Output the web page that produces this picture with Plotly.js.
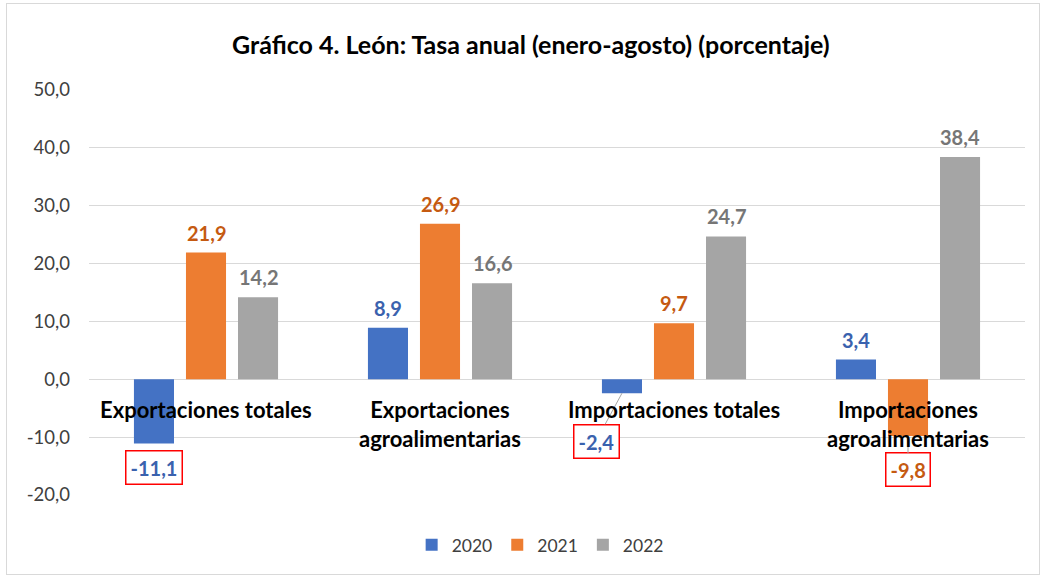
<!DOCTYPE html>
<html>
<head>
<meta charset="utf-8">
<script src="https://cdn.plot.ly/plotly-3.0.1.min.js"></script>
<style>
  html, body { margin: 0; padding: 0; background: #fff; }
  #chart { width: 1043px; height: 577px; position: relative; }
  #frame { position: absolute; left: 6px; top: 3px; width: 1032px; height: 570px; border: 1px solid #d9d9d9; pointer-events: none; }
</style>
</head>
<body>
<div id="chart"></div>
<div id="frame"></div>
<script>
const categories = ["Exportaciones totales", "Exportaciones<br>agroalimentarias", "Importaciones totales", "Importaciones<br>agroalimentarias"];
const seriesNames = ["2020", "2021", "2022"];
const values2020 = [-11.1, 8.9, -2.4, 3.4];
const values2021 = [21.9, 26.9, 9.7, -9.8];
const values2022 = [14.2, 16.6, 24.7, 38.4];
const yTicks = [-20, -10, 0, 10, 20, 30, 40, 50];

const barColors = ["#4472C4", "#ED7D31", "#A5A5A5"];
const labelColors = ["#3A62AE", "#C55A11", "#767676"];
const allValues = [values2020, values2021, values2022];
const font = "Lato, 'Open Sans', sans-serif";
const fmt = v => v.toFixed(1).replace(".", ",");

const traces = allValues.map((vals, i) => ({
  type: "bar",
  name: seriesNames[i],
  x: categories,
  y: vals,
  marker: { color: barColors[i] },
  hoverinfo: "none"
}));

const offsets = [-52, 0, 52];
const annotations = [];
// data labels
allValues.forEach((vals, s) => {
  vals.forEach((v, c) => {
    const base = {
      x: categories[c], y: v, xref: "x", yref: "y",
      text: "<b>" + fmt(v) + "</b>",
      font: { family: font, size: 20, color: labelColors[s] },
      xshift: offsets[s]
    };
    if (v >= 0) {
      annotations.push(Object.assign(base, { showarrow: false, yanchor: "bottom", yshift: 6 }));
    } else {
      const box = { bordercolor: "#FF0000", borderwidth: 1.5, borderpad: 4, bgcolor: "#fff" };
      if (c === 0) {
        annotations.push(Object.assign(base, box, { showarrow: false, yanchor: "top", yshift: -6 }));
      } else if (c === 2) {
        annotations.push(Object.assign(base, box, { showarrow: true, arrowhead: 0, arrowwidth: 1, arrowcolor: "#A6A6A6", ax: -26, ay: 48 }));
      } else {
        annotations.push(Object.assign(base, box, { showarrow: true, arrowhead: 0, arrowwidth: 1, arrowcolor: "#A6A6A6", ax: 0, ay: 34 }));
      }
    }
  });
});
// category labels at zero line
categories.forEach(cat => {
  annotations.push({
    x: cat, y: 0, xref: "x", yref: "y",
    text: "<b>" + cat + "</b>",
    showarrow: false, yanchor: "top", yshift: -15,
    font: { family: font, size: 22, color: "#000" }
  });
});

const layout = {
  width: 1043, height: 577,
  margin: { l: 89, r: 18, t: 90, b: 82 },
  paper_bgcolor: "rgba(0,0,0,0)",
  plot_bgcolor: "#fff",
  title: {
    text: "<b>Gráfico 4. León: Tasa anual (enero-agosto) (porcentaje)</b>",
    font: { family: font, size: 25, color: "#000" },
    x: 0.509, xanchor: "center", xref: "container",
    y: 0.922, yanchor: "middle", yref: "container"
  },
  barmode: "group",
  bargap: 0.333,
  bargroupgap: 0.23,
  xaxis: { showticklabels: false, showgrid: false, zeroline: false, showline: false, ticks: "", fixedrange: true },
  yaxis: {
    range: [-20, 50],
    tickvals: yTicks,
    ticktext: yTicks.map(fmt),
    showgrid: true, gridcolor: "#D9D9D9", gridwidth: 1,
    zeroline: true, zerolinecolor: "#D9D9D9", zerolinewidth: 1,
    showline: false, ticks: "", ticklabelstandoff: 18,
    tickfont: { family: font, size: 18.5, color: "#404040" },
    fixedrange: true
  },
  showlegend: true,
  legend: {
    orientation: "h", x: 0.482, xanchor: "center", y: -0.123, yanchor: "middle",
    font: { family: font, size: 17.5, color: "#404040" },
    itemclick: false, itemdoubleclick: false
  },
  annotations: annotations
};

Plotly.newPlot("chart", traces, layout, { displayModeBar: false, staticPlot: true });
</script>
</body>
</html>
